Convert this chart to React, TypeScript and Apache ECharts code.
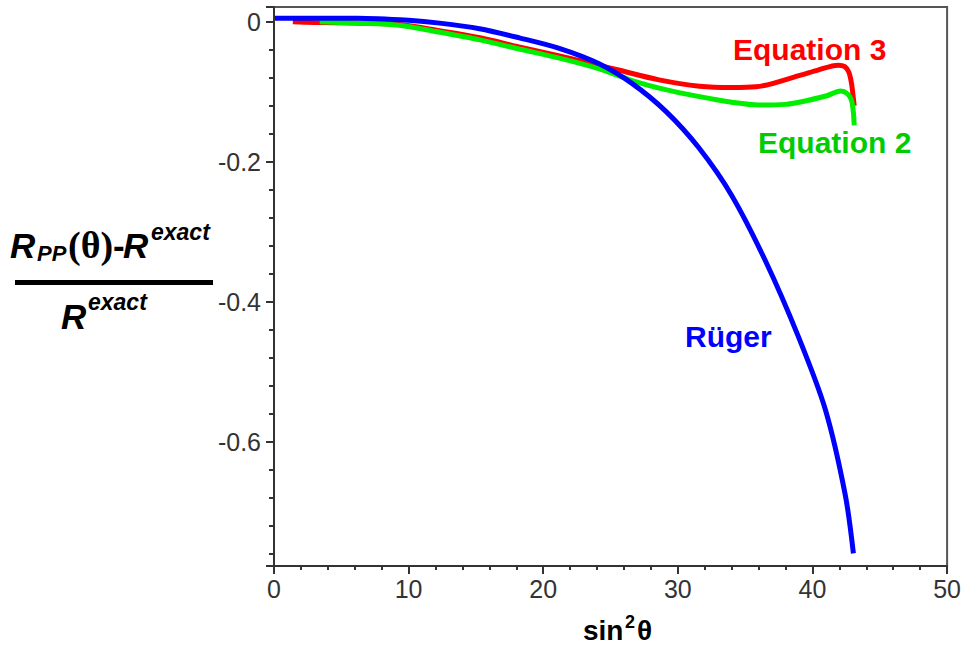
import React, { useEffect, useRef } from "react";
import * as echarts from "echarts";

// sin^2(theta) values and relative errors
const rugerX = [0, 3, 6.2, 10.0, 12.3, 15.26, 18.22, 21.19, 24.15, 26.59, 29.11, 31.56, 34.0, 36.52, 38.96, 40.96, 42.44, 43.04];
const rugerY = [0.005, 0.005, 0.005, 0.002, -0.002, -0.01, -0.023, -0.038, -0.06, -0.088, -0.128, -0.18, -0.248, -0.342, -0.45, -0.554, -0.676, -0.759];

const eq2X = [3.4, 6, 9.3, 12.3, 15.3, 18.2, 21.2, 24.1, 26.6, 29.1, 31.6, 34.0, 36.0, 38.0, 39.0, 41.0, 42.1, 42.6, 42.9, 43.04, 43.1];
const eq2Y = [0, -0.002, -0.005, -0.015, -0.026, -0.039, -0.052, -0.067, -0.084, -0.097, -0.107, -0.115, -0.119, -0.118, -0.115, -0.106, -0.099, -0.103, -0.112, -0.13, -0.148];

const eq3X = [1.4, 3, 6, 9.3, 12.3, 15.3, 18.2, 21.2, 24.1, 25.6, 28.6, 31.6, 34.0, 35.8, 39.0, 40.4, 41.9, 42.4, 42.7, 42.9, 43.04, 43.1];
const eq3Y = [0, -0.001, -0.002, -0.004, -0.013, -0.023, -0.036, -0.049, -0.062, -0.069, -0.083, -0.092, -0.094, -0.093, -0.077, -0.069, -0.062, -0.064, -0.072, -0.088, -0.11, -0.12];

const xMin = 0;
const xMax = 50;
const xStep = 10;
const yMin = -0.777;
const yMax = 0.021;

const zip = (xs: number[], ys: number[]) => xs.map((x, i) => [x, ys[i]]);

const SANS = "'Liberation Sans', Arial, sans-serif";
const SERIF = "'Liberation Serif', 'Times New Roman', serif";

function txt(text: string, x: number, baseline: number, size: number, opts: any = {}) {
  const family = opts.family || SANS;
  const ratio = family === SERIF ? 0.3375 : 0.3465;
  return {
    type: "text",
    x,
    y: baseline - ratio * size,
    z: 100,
    style: {
      text,
      font: `${opts.style || "normal"} ${opts.weight || "bold"} ${size}px ${family}`,
      fill: opts.fill || "#000",
      align: opts.align || "left",
      verticalAlign: "middle",
    },
  };
}

export default function App() {
  const ref = useRef<HTMLDivElement>(null);
  useEffect(() => {
    if (!ref.current) return;
    const chart = echarts.init(ref.current, undefined, { renderer: "svg" });
    const tickStyle = { color: "#333", width: 2 };
    chart.setOption({
      animation: false,
      backgroundColor: "#fff",
      grid: {
        left: 274,
        top: 7,
        right: 15,
        bottom: 80,
        show: true,
        borderColor: "#555",
        borderWidth: 2,
        backgroundColor: "transparent",
        z: 0,
      },
      xAxis: {
        type: "value",
        min: xMin,
        max: xMax,
        interval: xStep,
        z: 5,
        axisLine: { show: true, onZero: false, lineStyle: tickStyle },
        axisTick: { show: true, inside: false, length: 8, lineStyle: tickStyle },
        minorTick: { show: true, splitNumber: 5, length: 4, lineStyle: tickStyle },
        splitLine: { show: false },
        minorSplitLine: { show: false },
        axisLabel: {
          color: "#333",
          fontSize: 25,
          fontFamily: SANS,
          margin: 10,
        },
      },
      yAxis: {
        type: "value",
        min: yMin,
        max: yMax,
        splitNumber: 5,
        z: 5,
        axisLine: { show: true, onZero: false, lineStyle: tickStyle },
        axisTick: { show: true, inside: false, length: 8, lineStyle: tickStyle },
        minorTick: { show: true, splitNumber: 5, length: 5, lineStyle: tickStyle },
        splitLine: { show: false },
        minorSplitLine: { show: false },
        axisLabel: {
          color: "#333",
          fontSize: 25,
          fontFamily: SANS,
          margin: 13,
          showMinLabel: false,
          showMaxLabel: false,
          formatter: (v: number) => String(Math.round(v * 10) / 10),
        },
      },
      series: [
        {
          type: "line",
          name: "Equation 3",
          data: zip(eq3X, eq3Y),
          showSymbol: false,
          smooth: 0.3,
          lineStyle: { color: "#ff0000", width: 5 },
          z: 2,
        },
        {
          type: "line",
          name: "Equation 2",
          data: zip(eq2X, eq2Y),
          showSymbol: false,
          smooth: 0.3,
          lineStyle: { color: "#00ee00", width: 5 },
          z: 3,
        },
        {
          type: "line",
          name: "Rüger",
          data: zip(rugerX, rugerY),
          showSymbol: false,
          smooth: 0.3,
          lineStyle: { color: "#0000ff", width: 5 },
          z: 4,
        },
      ],
      graphic: [
        txt("Equation 3", 733, 60, 30, { fill: "#ff0000" }),
        txt("Equation 2", 758, 153, 30, { fill: "#00cc00" }),
        txt("Rüger", 685, 347, 30, { fill: "#0000ff" }),
        // x axis title
        txt("sin", 583, 640, 28),
        txt("2", 625, 628, 18),
        txt("θ", 637, 640, 28),
        // y axis title: numerator
        txt("R", 10, 258, 35, { style: "italic" }),
        txt("PP", 37, 261, 22, { style: "italic" }),
        txt("(θ)", 68, 258, 38, { family: SERIF, weight: "bold" }),
        txt("-", 113, 258, 35),
        txt("R", 123, 258, 35, { style: "italic" }),
        txt("exact", 151, 240, 23, { style: "italic" }),
        {
          type: "rect",
          shape: { x: 15, y: 280, width: 198, height: 5 },
          style: { fill: "#000" },
          z: 100,
        },
        // denominator
        txt("R", 61, 329, 35, { style: "italic" }),
        txt("exact", 88, 310, 23, { style: "italic" }),
      ],
    });
    return () => chart.dispose();
  }, []);
  return (
    <div
      ref={ref}
      style={{ position: "fixed", left: 0, top: 0, width: 964, height: 646 }}
    />
  );
}
